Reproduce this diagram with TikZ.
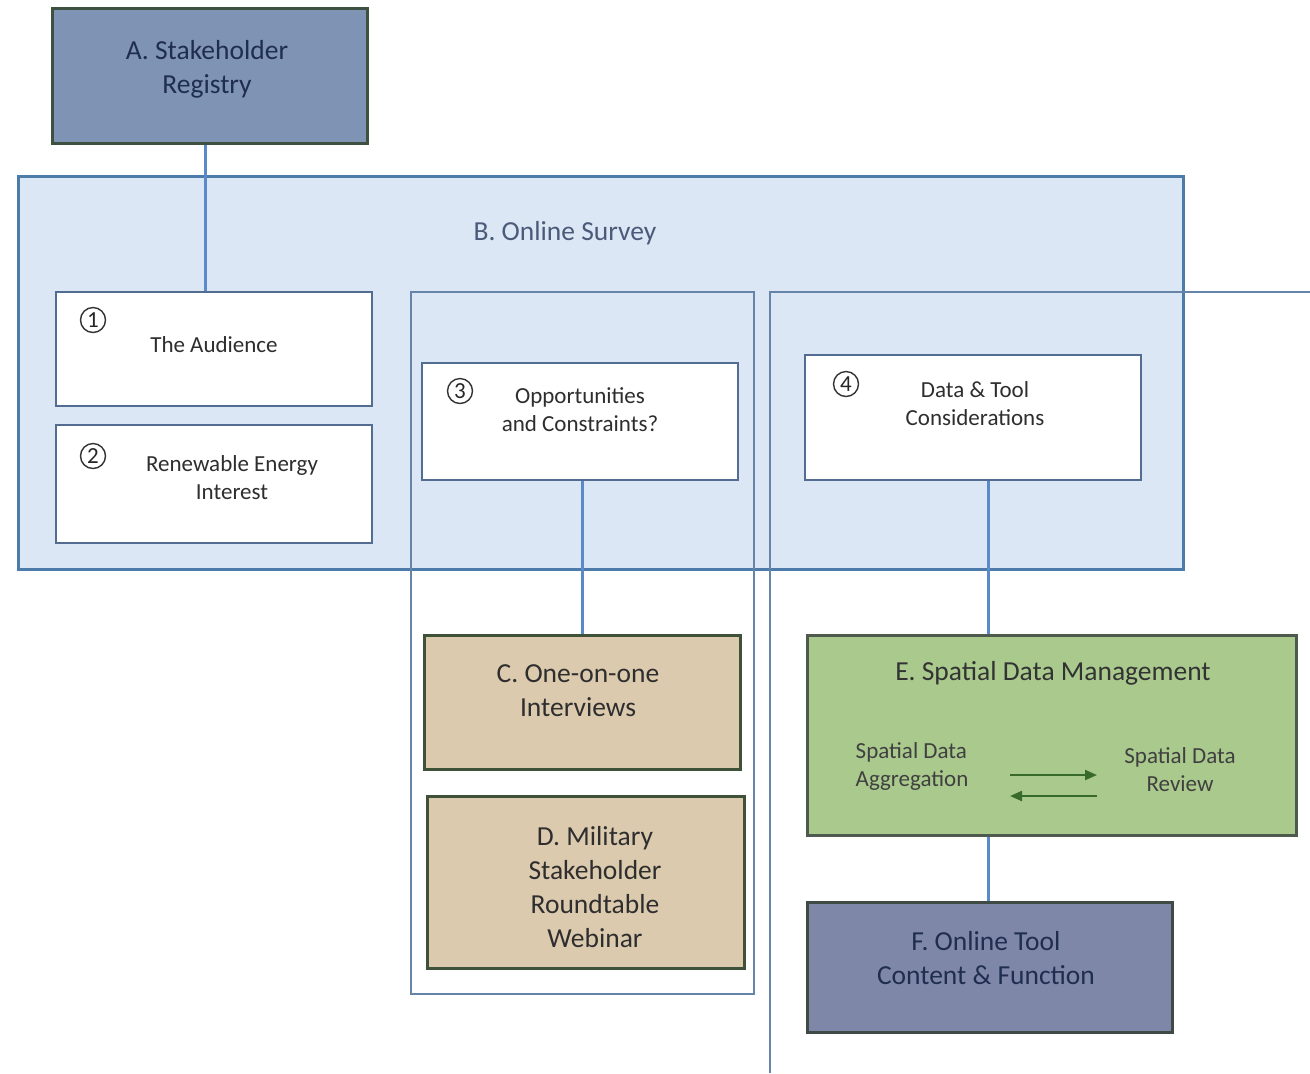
\documentclass[tikz,border=0pt]{standalone}
\usepackage{fontspec}
\setmainfont{Carlito}
\usetikzlibrary{arrows.meta,calc}
\definecolor{aFill}{HTML}{7F93B5}
\definecolor{aLine}{HTML}{3E5141}
\definecolor{bFill}{HTML}{DBE7F5}
\definecolor{bLine}{HTML}{4D7BAA}
\definecolor{wLine}{HTML}{536D92}
\definecolor{gLine}{HTML}{6684A8}
\definecolor{conn}{HTML}{5B8ACB}
\definecolor{cFill}{HTML}{DCCAAE}
\definecolor{cLine}{HTML}{3D5238}
\definecolor{eFill}{HTML}{A9C98D}
\definecolor{eLine}{HTML}{4E5A4E}
\definecolor{fFill}{HTML}{7F87A8}
\definecolor{fLine}{HTML}{3F4A45}
\definecolor{arrC}{HTML}{386B2B}
\definecolor{navy}{HTML}{1F2D4F}
\definecolor{txt}{HTML}{2E2E2E}
\definecolor{bTxt}{HTML}{4A5A78}
\begin{document}
\begin{tikzpicture}[x=0.5pt,y=-0.5pt,
  box/.style={draw, rectangle, inner sep=0pt},
  abox/.style={box, fill=aFill, draw=aLine, line width=1.5pt},
  fbox/.style={box, fill=fFill, draw=fLine, line width=1.5pt},
  wbox/.style={box, fill=white, draw=wLine, line width=1.2pt},
  cbox/.style={box, fill=cFill, draw=cLine, line width=1.5pt},
  ebox/.style={box, fill=eFill, draw=eLine, line width=1.5pt},
  bigtxt/.style={align=center, inner sep=0pt, font=\fontsize{13.75}{17}\selectfont},
  smalltxt/.style={align=center, inner sep=0pt, font=\fontsize{11.5}{14}\selectfont, text=txt},
  num/.style={circle, draw=black!80, line width=0.7pt, minimum size=12.5pt, inner sep=0pt, font=\fontsize{11.5}{11.5}\selectfont, text=black!85},
  conline/.style={draw=conn, line width=1.5pt},
  grpline/.style={draw=gLine, line width=1.2pt},
  flow/.style={draw=arrC, line width=1.1pt, -{Triangle[length=6pt,width=5pt]}}
]
\fill[white] (0,0) rectangle (1310,1073);
\useasboundingbox (0,0) rectangle (1310,1073);

% B. Online Survey container
\node[box, fill=bFill, draw=bLine, line width=1.5pt, minimum width=582.5pt, minimum height=196.5pt] (B) at (600.5,372.5) {};
\node[bigtxt, text=bTxt] (Btxt) at (565,233) {B. Online Survey};

% group outlines
\node[box, draw=gLine, line width=1.2pt, minimum width=171.5pt, minimum height=351pt] (G3) at (582.5,643) {};
\coordinate (g4a) at (770,1073);
\coordinate (g4b) at (770,292);
\coordinate (g4c) at (1310,292);
\draw[grpline] (g4a) -- (g4b) -- (g4c);

% A
\node[abox, minimum width=157.5pt, minimum height=67.5pt] (A) at (209.5,75.5) {};
\node[bigtxt, text=navy] (Atxt) at (207,69) {A. Stakeholder\\Registry};

% survey boxes
\node[wbox, minimum width=158pt, minimum height=57pt] (n1) at (214,349) {};
\node[smalltxt] (n1t) at (214,345) {The Audience};
\node[num] (n1n) at (93,320) {1};

\node[wbox, minimum width=158pt, minimum height=59pt] (n2) at (214,484) {};
\node[smalltxt] (n2t) at (232,478) {Renewable Energy\\Interest};
\node[num] (n2n) at (93,456) {2};

\node[wbox, minimum width=158pt, minimum height=58.5pt] (n3) at (580,421.5) {};
\node[smalltxt] (n3t) at (580,410) {Opportunities\\and Constraints?};
\node[num] (n3n) at (460,391) {3};

\node[wbox, minimum width=168pt, minimum height=62.5pt] (n4) at (973,417.5) {};
\node[smalltxt] (n4t) at (975,404) {Data \& Tool\\Considerations};
\node[num] (n4n) at (846,384) {4};

% C, D
\node[cbox, minimum width=158pt, minimum height=67pt] (C) at (582,702) {};
\node[bigtxt, text=txt] (Ct) at (578,691) {C. One-on-one\\Interviews};
\node[cbox, minimum width=158.5pt, minimum height=86pt] (D) at (585.5,882) {};
\node[bigtxt, text=txt] (Dt) at (595,887) {D. Military\\Stakeholder\\Roundtable\\Webinar};

% E
\node[ebox, minimum width=244.5pt, minimum height=100pt] (E) at (1051.5,735) {};
\node[bigtxt, text=black!80] (Et) at (1053,673) {E. Spatial Data Management};
\node[smalltxt, align=left, text=black!75] (Eagg) at (912,766) {Spatial Data\\Aggregation};
\node[smalltxt, text=black!75] (Erev) at (1180,770) {Spatial Data\\Review};
\coordinate (r1) at (1010,775);
\coordinate (r2) at (1097,775);
\coordinate (l1) at (1097,796);
\coordinate (l2) at (1010,796);
\draw[flow] (r1) -- (r2);
\draw[flow] (l1) -- (l2);

% F
\node[fbox, minimum width=182.5pt, minimum height=65pt] (F) at (989.5,967) {};
\node[bigtxt, text=navy] (Ft) at (986,958) {F. Online Tool\\Content \& Function};

% connectors
\coordinate (xa) at (205,0);
\coordinate (xc) at (582,0);
\coordinate (xe) at (988,0);
\draw[conline] (A.south -| xa) -- (n1.north -| xa);
\draw[conline] (n3.south -| xc) -- (C.north -| xc);
\draw[conline] (n4.south -| xe) -- (E.north -| xe);
\draw[conline] (E.south -| xe) -- (F.north -| xe);
\end{tikzpicture}
\end{document}
